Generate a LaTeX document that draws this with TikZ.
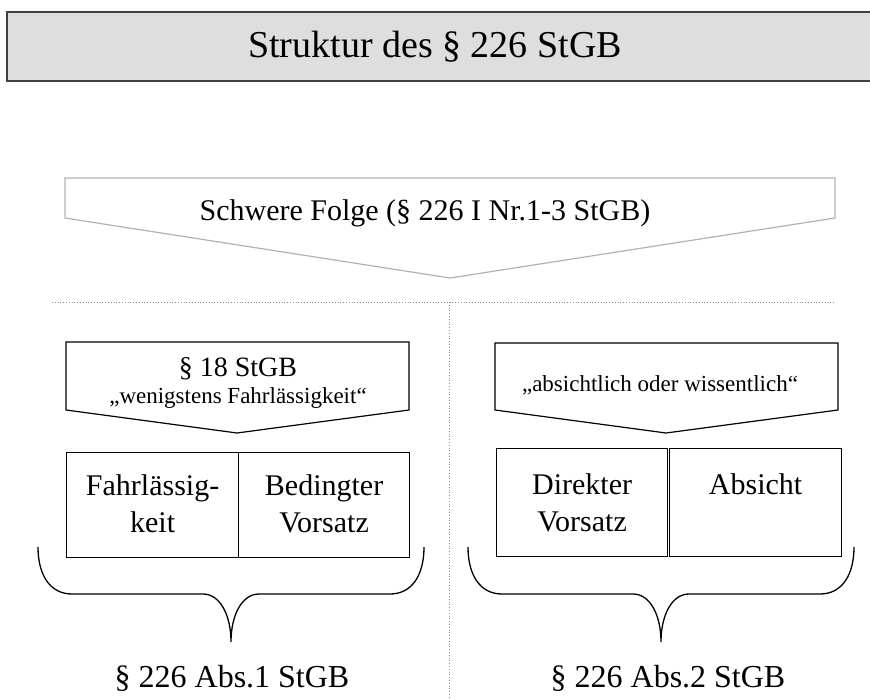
\documentclass[tikz,border=0pt]{standalone}
\usepackage{fontspec}
\setmainfont{Liberation Serif}
\usetikzlibrary{positioning}

\begin{document}
\begin{tikzpicture}[x=1pt,y=-1pt,every node/.style={inner sep=0pt},
  pfeil/.style={draw=black,line width=1.2pt},
  feld/.style={draw=black,line width=1.2pt,minimum height=105pt,anchor=north west},
  feldtext/.style={align=center,font=\fontsize{30}{37}\selectfont},
  klammer/.style={draw=black,line width=1.3pt},
  trenner/.style={draw=black!45,dotted,line width=0.8pt}]
  \useasboundingbox (0,0) rectangle (870,700);
  \draw[draw=black!75,fill=black!13,line width=1.5pt] (7,12) rectangle (880,81);
  \node[font=\fontsize{38}{40}\selectfont] (titel) at (435,47) {Struktur des § 226 StGB};
  \draw[pfeil,draw=black!30] (65,178) -- (835,178) -- (835,218) -- (450,278) -- (65,218) -- cycle;
  \node[font=\fontsize{30}{36}\selectfont] (folge) at (425,213) {Schwere Folge (§ 226 I Nr.1-3 StGB)};
  \draw[trenner] (52,302) -- (835,302);
  \draw[trenner] (449,302) -- (449,700);
  \draw[pfeil] (66,342) -- (409,342) -- (409,410) -- (237,433) -- (66,410) -- cycle;
  \draw[pfeil] (495,343) -- (838,343) -- (838,410) -- (666,433) -- (495,410) -- cycle;
  \node[font=\fontsize{28}{30}\selectfont] (para18) at (238,369) {§ 18 StGB};
  \node[font=\fontsize{23}{26}\selectfont] (wenig) at (238,398) {„wenigstens Fahrlässigkeit“};
  \node[font=\fontsize{23}{26}\selectfont] (wissen) at (660,385) {„absichtlich oder wissentlich“};
  \node[feld,minimum width=172pt] (fahrl) at (66,452) {};
  \node[feld,minimum width=171pt] (bedingt) at (238,452) {};
  \node[feld,minimum width=171pt,minimum height=108pt] (direkt) at (496,448) {};
  \node[feld,minimum width=172pt,minimum height=108pt] (absicht) at (669,448) {};
  \node[feldtext,below=22pt of fahrl.north] {Fahrlässig-\\keit};
  \node[feldtext,below=22pt of bedingt.north] {Bedingter\\Vorsatz};
  \node[feldtext,below=25pt of direkt.north] {Direkter\\Vorsatz};
  \node[feldtext,below=25pt of absicht.north] {Absicht};
  \foreach \mx/\lx/\nr in {231/232/1,661/668/2}{
    \draw[klammer,xshift=\mx pt] (-193,547) .. controls (-193,575) and (-181,594) .. (-159,594)
      -- (-28,594) .. controls (-11,594) and (0,615) .. (0,642)
      .. controls (0,615) and (11,594) .. (28,594) -- (159,594)
      .. controls (181,594) and (193,575) .. (193,547);
    \node[font=\fontsize{32}{34}\selectfont] (abs\nr) at (\lx,678) {§ 226 Abs.\nr\ StGB};
  }
\end{tikzpicture}
\end{document}
